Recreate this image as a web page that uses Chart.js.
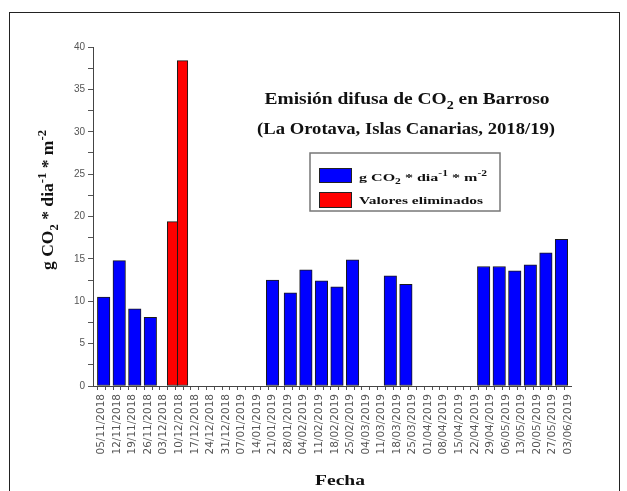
<!DOCTYPE html>
<html>
<head>
<meta charset="utf-8">
<script src="https://cdn.jsdelivr.net/npm/chart.js@4.4.1/dist/chart.umd.min.js"></script>
<style>
  html, body { margin: 0; padding: 0; background: #fff; }
  #wrap { position: relative; width: 627px; height: 491px; overflow: hidden; }
  #frame { position: absolute; left: 9px; top: 12px; width: 611px; height: 520px; border: 1px solid #222; box-sizing: border-box; pointer-events: none; }
  canvas { position: absolute; left: 0; top: 0; }
</style>
</head>
<body>
<div id="wrap">
  <canvas id="chart" width="627" height="491"></canvas>
  <div id="frame"></div>
</div>
<script>
// Date axis: one label per week, day 0 = 05/11/2018
const dateLabels = [
  "05/11/2018", "12/11/2018", "19/11/2018", "26/11/2018", "03/12/2018", "10/12/2018",
  "17/12/2018", "24/12/2018", "31/12/2018", "07/01/2019", "14/01/2019", "21/01/2019",
  "28/01/2019", "04/02/2019", "11/02/2019", "18/02/2019", "25/02/2019", "04/03/2019",
  "11/03/2019", "18/03/2019", "25/03/2019", "01/04/2019", "08/04/2019", "15/04/2019",
  "22/04/2019", "29/04/2019", "06/05/2019", "13/05/2019", "20/05/2019", "27/05/2019",
  "03/06/2019",
]

// sampling days (days after 05/11/2018) and fluxes
const blueDays = [1, 8, 15, 22, 77, 85, 92, 99, 106, 113, 130, 137, 172, 179, 186, 193, 200, 207]
const blueValues = [10.5, 14.8, 9.1, 8.1, 12.5, 11.0, 13.7, 12.4, 11.7, 14.9, 13.0, 12.0, 14.1, 14.1, 13.6, 14.3, 15.7, 17.3]
const redDays = [32, 36.5]
const redValues = [19.4, 38.4]

const yTickLabels = [0, 5, 10, 15, 20, 25, 30, 35, 40]

const SERIF = '"Liberation Serif", "Times New Roman", serif'
const UNIT = [["g CO", 0], ["2", -1], [" * dia", 0], ["-1", 1], [" * m", 0], ["-2", 1]]

// text with sub (-1) / superscript (1) parts, stretched to a given width
function drawRich(ctx, parts, x, y, size, width, align) {
  const small = size * 0.72
  const fontOf = k => `bold ${k ? small : size}px ${SERIF}`
  const widths = parts.map(([t, k]) => { ctx.font = fontOf(k); return ctx.measureText(t).width })
  const natural = widths.reduce((a, b) => a + b, 0)
  ctx.save()
  ctx.translate(x, y)
  ctx.scale(width / natural, 1)
  ctx.textAlign = "left"
  ctx.textBaseline = "alphabetic"
  ctx.fillStyle = "#111"
  let cx = align === "center" ? -natural / 2 : 0
  parts.forEach(([t, k], i) => {
    ctx.font = fontOf(k)
    ctx.fillText(t, cx, k < 0 ? size * 0.3 : k > 0 ? -size * 0.42 : 0)
    cx += widths[i]
  })
  ctx.restore()
}

const textPlugin = {
  id: "texts",
  afterDraw(chart) {
    const ctx = chart.ctx

    drawRich(ctx, [["Emisión difusa de CO", 0], ["2", -1], [" en Barroso", 0]], 407, 104, 16, 285, "center")
    drawRich(ctx, [["(La Orotava, Islas Canarias, 2018/19)", 0]], 406, 134, 16, 298, "center")

    // legend
    ctx.save()
    ctx.fillStyle = "#fff"
    ctx.strokeStyle = "#777"
    ctx.lineWidth = 1.5
    ctx.fillRect(310, 153, 190, 58)
    ctx.strokeRect(310, 153, 190, 58)
    ctx.lineWidth = 1
    ctx.strokeStyle = "#222"
    ctx.fillStyle = "#0000ff"
    ctx.fillRect(319.5, 168.5, 32, 14)
    ctx.strokeRect(319.5, 168.5, 32, 14)
    ctx.fillStyle = "#ff0000"
    ctx.fillRect(319.5, 192.5, 32, 15)
    ctx.strokeRect(319.5, 192.5, 32, 15)
    ctx.restore()
    drawRich(ctx, UNIT, 359, 181, 11, 128, "left")
    drawRich(ctx, [["Valores eliminados", 0]], 359, 204, 11, 124, "left")

    // axis titles
    drawRich(ctx, [["Fecha", 0]], 340, 485, 15, 50, "center")
    ctx.save()
    ctx.translate(53, 200)
    ctx.rotate(-Math.PI / 2)
    drawRich(ctx, UNIT, 0, 0, 17, 140, "center")
    ctx.restore()
  },
}

const xTickValues = dateLabels.flatMap((_, i) => i < dateLabels.length - 1 ? [i * 7, i * 7 + 3.5] : [i * 7])
const yTickValues = []
for (let v = 0; v <= 40; v += 2.5) yTickValues.push(v)

new Chart(document.getElementById("chart"), {
  type: "bar",
  data: {
    datasets: [
      {
        data: blueDays.map((d, i) => ({ x: d, y: blueValues[i] })),
        backgroundColor: "#0000ff",
        borderColor: "#1a1a1a",
        borderWidth: 1,
        borderSkipped: false,
        barThickness: 12.5,
        grouped: false,
      },
      {
        data: redDays.map((d, i) => ({ x: d, y: redValues[i] })),
        backgroundColor: "#ff0000",
        borderColor: "#1a1a1a",
        borderWidth: 1,
        borderSkipped: false,
        barThickness: 10.5,
        grouped: false,
      },
    ],
  },
  options: {
    responsive: false,
    devicePixelRatio: 1,
    animation: false,
    layout: { padding: { left: 0, top: 47, right: 56, bottom: 0 } },
    plugins: { legend: { display: false }, tooltip: { enabled: false } },
    scales: {
      x: {
        type: "linear",
        min: -3.8,
        max: 211.3,
        offset: false,
        afterBuildTicks: s => { s.ticks = xTickValues.map(v => ({ value: v })) },
        afterFit: s => { s.height = 105 },
        grid: { drawOnChartArea: false, tickLength: 4, color: "#555" },
        border: { color: "#444", width: 1 },
        ticks: {
          autoSkip: false,
          minRotation: 90,
          maxRotation: 90,
          padding: 4,
          color: "#555",
          font: { family: "'DejaVu Sans', sans-serif", size: 10.5 },
          callback: v => v % 7 === 0 ? dateLabels[v / 7] : "",
        },
      },
      y: {
        min: 0,
        max: 40,
        afterBuildTicks: s => { s.ticks = yTickValues.map(v => ({ value: v })) },
        afterFit: s => { s.width = 93 },
        grid: { drawOnChartArea: false, tickLength: 5, color: "#555" },
        border: { color: "#444", width: 1 },
        ticks: {
          padding: 3,
          color: "#555",
          font: { family: "'Liberation Sans', Arial, sans-serif", size: 10 },
          callback: v => yTickLabels.includes(v) ? v : "",
        },
      },
    },
  },
  plugins: [textPlugin],
})
</script>
</body>
</html>
